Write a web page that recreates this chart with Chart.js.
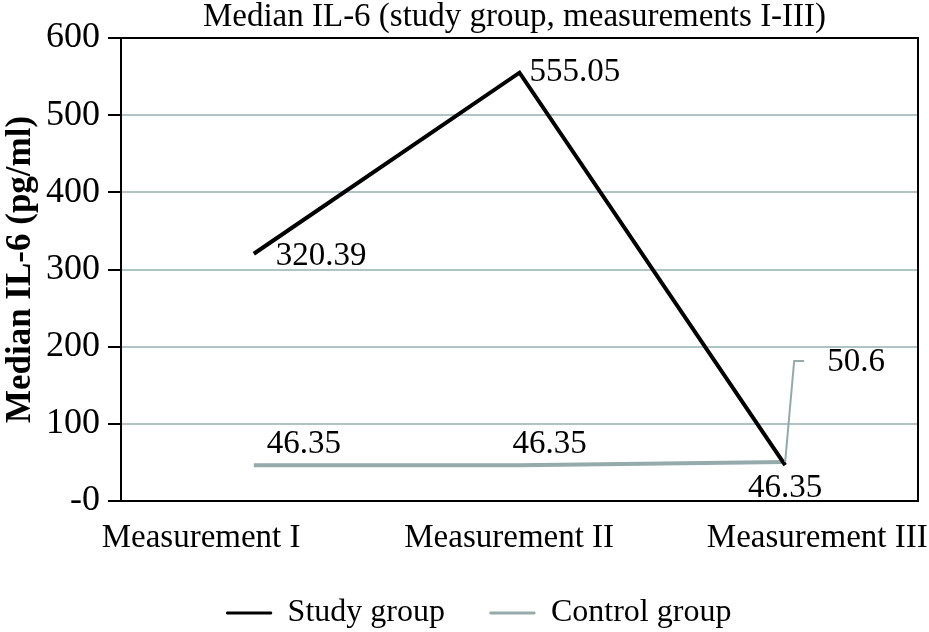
<!DOCTYPE html>
<html>
<head>
<meta charset="utf-8">
<script src="https://cdn.jsdelivr.net/npm/chart.js@4"></script>
<style>
  html, body { margin: 0; padding: 0; background: #fff; }
  #wrap { width: 929px; height: 632px; }
</style>
</head>
<body>
<div id="wrap"><canvas id="il6-chart"></canvas></div>
<script>
var categories = ['Measurement I', 'Measurement II', 'Measurement III'];
var studyGroup = [320.39, 555.05, 46.35];
var controlGroup = [46.35, 46.35, 50.6];
var yTicks = [0, 100, 200, 300, 400, 500, 600];
var chartTitle = 'Median IL-6 (study group, measurements I-III)';

var serif = '"Liberation Serif", "Times New Roman", serif';

// value labels next to the points, plus the leader line for the last control value
var valueLabels = {
    id: 'valueLabels',
    afterDatasetsDraw: function (chart) {
        var ctx = chart.ctx;
        var s = chart.getDatasetMeta(0).data;
        var c = chart.getDatasetMeta(1).data;
        ctx.save();
        ctx.font = '33px ' + serif;
        ctx.fillStyle = '#000';
        ctx.textBaseline = 'middle';

        ctx.textAlign = 'left';
        ctx.fillText(studyGroup[0], s[0].x + 22, s[0].y + 3);
        ctx.fillText(studyGroup[1], s[1].x + 10, s[1].y);
        ctx.textAlign = 'center';
        ctx.fillText(studyGroup[2], s[2].x, s[2].y + 23);

        ctx.textAlign = 'left';
        ctx.fillText(controlGroup[0], c[0].x + 13, c[0].y - 21);
        ctx.fillText(controlGroup[1], c[1].x - 7, c[1].y - 21);

        // leader line
        ctx.strokeStyle = '#95aaaa';
        ctx.lineWidth = 2;
        ctx.beginPath();
        ctx.moveTo(c[2].x, c[2].y);
        ctx.lineTo(c[2].x + 9, c[2].y - 101);
        ctx.lineTo(c[2].x + 19, c[2].y - 101);
        ctx.stroke();
        ctx.fillText(controlGroup[2], c[2].x + 42, c[2].y - 100);
        ctx.restore();
    }
};

// black frame around the plot area + title centred over the plot
var plotFrame = {
    id: 'plotFrame',
    afterLayout: function (chart) {
        // legend sits a bit right of the canvas centre
        chart.legend.left += 20;
        chart.legend.right += 20;
    },
    afterDraw: function (chart) {
        var a = chart.chartArea;
        var ctx = chart.ctx;
        ctx.save();
        ctx.strokeStyle = '#000';
        ctx.lineWidth = 2;
        ctx.strokeRect(a.left, a.top, a.right - a.left, a.bottom - a.top);
        ctx.font = '33px ' + serif;
        ctx.fillStyle = '#000';
        ctx.textAlign = 'center';
        ctx.textBaseline = 'middle';
        ctx.fillText(chartTitle, (a.left + a.right) / 2 - 5, a.top - 21);
        ctx.restore();
    }
};

var ctx = document.getElementById('il6-chart').getContext('2d');
var il6Chart = new Chart(ctx, {
    type: 'line',
    data: {
        labels: categories,
        datasets: [{
            label: 'Study group',
            data: studyGroup,
            borderColor: '#000',
            backgroundColor: '#000',
            borderWidth: 4,
            pointRadius: 0,
            tension: 0
        }, {
            label: 'Control group',
            data: controlGroup,
            borderColor: '#95aaaa',
            backgroundColor: '#95aaaa',
            borderWidth: 4,
            pointRadius: 0,
            tension: 0
        }]
    },
    options: {
        responsive: true,
        maintainAspectRatio: false,
        animation: false,
        layout: { padding: { left: 0, right: 11, top: 38, bottom: -7 } },
        plugins: {
            title: { display: false },
            legend: {
                position: 'bottom',
                labels: {
                    color: '#000',
                    font: { family: serif, size: 32 },
                    boxWidth: 45,
                    boxHeight: 2,
                    padding: 45,
                    generateLabels: function (chart) {
                        var items = Chart.defaults.plugins.legend.labels.generateLabels(chart);
                        items.forEach(function (it) { it.lineWidth = 1; });
                        return items;
                    }
                }
            },
            tooltip: { enabled: false }
        },
        scales: {
            x: {
                offset: true,
                grid: { display: false, drawTicks: false },
                border: { display: true, color: '#000', width: 2 },
                ticks: { display: false },
                afterFit: function (axis) { axis.height = 0; }
            },
            // category names are spread wider than the points in the original
            xLabels: {
                type: 'linear',
                position: 'bottom',
                min: -0.26,
                max: 2.327,
                afterBuildTicks: function (axis) {
                    axis.ticks = categories.map(function (c, i) { return { value: i }; });
                },
                grid: { display: false, drawTicks: false },
                border: { display: false },
                afterFit: function (axis) {
                    axis.height = 51;
                    axis.paddingLeft = 0;
                    axis.paddingRight = 0;
                },
                ticks: {
                    color: '#000',
                    font: { family: serif, size: 33 },
                    padding: 18,
                    maxRotation: 0,
                    autoSkip: false,
                    callback: function (v) { return categories[v]; }
                }
            },
            y: {
                min: 0,
                max: 600,
                afterBuildTicks: function (axis) {
                    axis.ticks = yTicks.map(function (v) { return { value: v }; });
                },
                afterFit: function (axis) { axis.width = 121; },
                grid: {
                    color: '#b0c4c4',
                    lineWidth: 2,
                    tickColor: '#000',
                    tickLength: 13
                },
                border: { display: true, color: '#000', width: 2 },
                ticks: {
                    color: '#000',
                    font: { family: serif, size: 36 },
                    padding: 8,
                    callback: function (v) { return v === 0 ? '-0' : v; }
                },
                title: {
                    display: true,
                    text: 'Median IL-6 (pg/ml)',
                    color: '#000',
                    font: { family: serif, size: 35, weight: 'bold' },
                    padding: 0
                }
            }
        }
    },
    plugins: [valueLabels, plotFrame]
});
</script>
</body>
</html>
